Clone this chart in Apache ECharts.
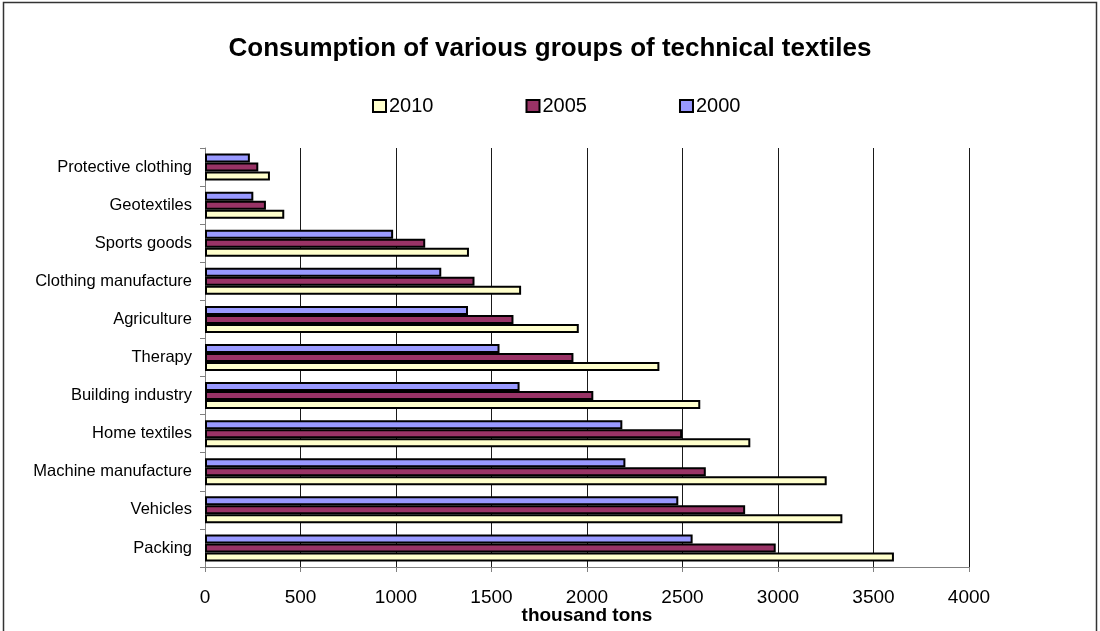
<!DOCTYPE html>
<html>
<head>
<meta charset="utf-8">
<script src="https://cdn.jsdelivr.net/npm/echarts@6/dist/echarts.min.js"></script>
<style>
  html, body { margin: 0; padding: 0; background: #fff; }
  #chart { width: 1100px; height: 631px; }
</style>
</head>
<body>
<div id="chart"></div>
<script>
// Categories listed from the bottom of the value axis upwards
const categories = [
  'Packing', 'Vehicles', 'Machine manufacture', 'Home textiles',
  'Building industry', 'Therapy', 'Agriculture', 'Clothing manufacture',
  'Sports goods', 'Geotextiles', 'Protective clothing'
];

// Consumption, thousand tons
const values2010 = [3607, 3337, 3255, 2855, 2593, 2379, 1957, 1655, 1382, 415, 340];
const values2005 = [2988, 2828, 2622, 2498, 2033, 1929, 1615, 1411, 1153, 319, 279];
const values2000 = [2553, 2478, 2201, 2185, 1647, 1542, 1377, 1237, 985, 253, 235];

// Legend order
const legendOrder = ['2010', '2005', '2000'];

// Series drawn in this order so 2000 sits on top of each group, 2010 at the bottom
const seriesNames = ['2000', '2005', '2010'];
const seriesColors = ['#9999FF', '#993366', '#FFFFCC'];
const seriesValues = [values2000, values2005, values2010];

const FONT = 'Liberation Sans, Arial, sans-serif';

const chart = echarts.init(document.getElementById('chart'), null, { renderer: 'canvas' });

chart.setOption({
  backgroundColor: '#ffffff',
  animation: false,
  title: {
    text: 'Consumption of various groups of technical textiles',
    left: 'center',
    top: 31,
    textStyle: { fontFamily: FONT, fontSize: 26, fontWeight: 'bold', color: '#000' }
  },
  legend: {
    data: legendOrder,
    top: 91,
    left: 367,
    itemWidth: 13,
    itemHeight: 12,
    itemGap: 92,
    icon: 'rect',
    itemStyle: { borderColor: '#000', borderWidth: 2 },
    textStyle: { fontFamily: FONT, fontSize: 20, color: '#000', padding: [0, 0, 0, -2] }
  },
  grid: {
    left: 205, right: 131, top: 148, bottom: 64,
    containLabel: false,
    outerBoundsMode: 'none'
  },
  xAxis: {
    type: 'value',
    min: 0,
    max: 4000,
    interval: 500,
    name: 'thousand tons',
    nameLocation: 'middle',
    nameGap: 39,
    nameMoveOverlap: false,
    nameTextStyle: { fontFamily: FONT, fontSize: 19, fontWeight: 'bold', color: '#000' },
    axisLine: { show: true, lineStyle: { color: '#808080', width: 1 } },
    axisTick: { show: true, length: 5, lineStyle: { color: '#808080' } },
    axisLabel: {
      fontFamily: FONT, fontSize: 19, color: '#000', margin: 21,
      formatter: v => String(v)
    },
    splitLine: { show: true, lineStyle: { color: '#1a1a1a', width: 1 } }
  },
  yAxis: {
    type: 'category',
    data: categories,
    axisLine: { show: true, lineStyle: { color: '#808080', width: 1 } },
    axisTick: { show: true, length: 5, lineStyle: { color: '#808080' } },
    axisLabel: { fontFamily: FONT, fontSize: 16.5, color: '#000', margin: 13 },
    splitLine: { show: false }
  },
  series: seriesNames.map((name, i) => ({
    name: name,
    type: 'bar',
    data: seriesValues[i],
    barWidth: 9,
    barGap: '0%',
    itemStyle: { color: seriesColors[i], borderColor: '#000', borderWidth: 2 }
  })),
  graphic: [{
    type: 'rect',
    shape: { x: 3.5, y: 2.5, width: 1093, height: 700 },
    style: { fill: null, stroke: '#333', lineWidth: 1.5 },
    silent: true,
    z: 100
  }]
});
</script>
</body>
</html>
